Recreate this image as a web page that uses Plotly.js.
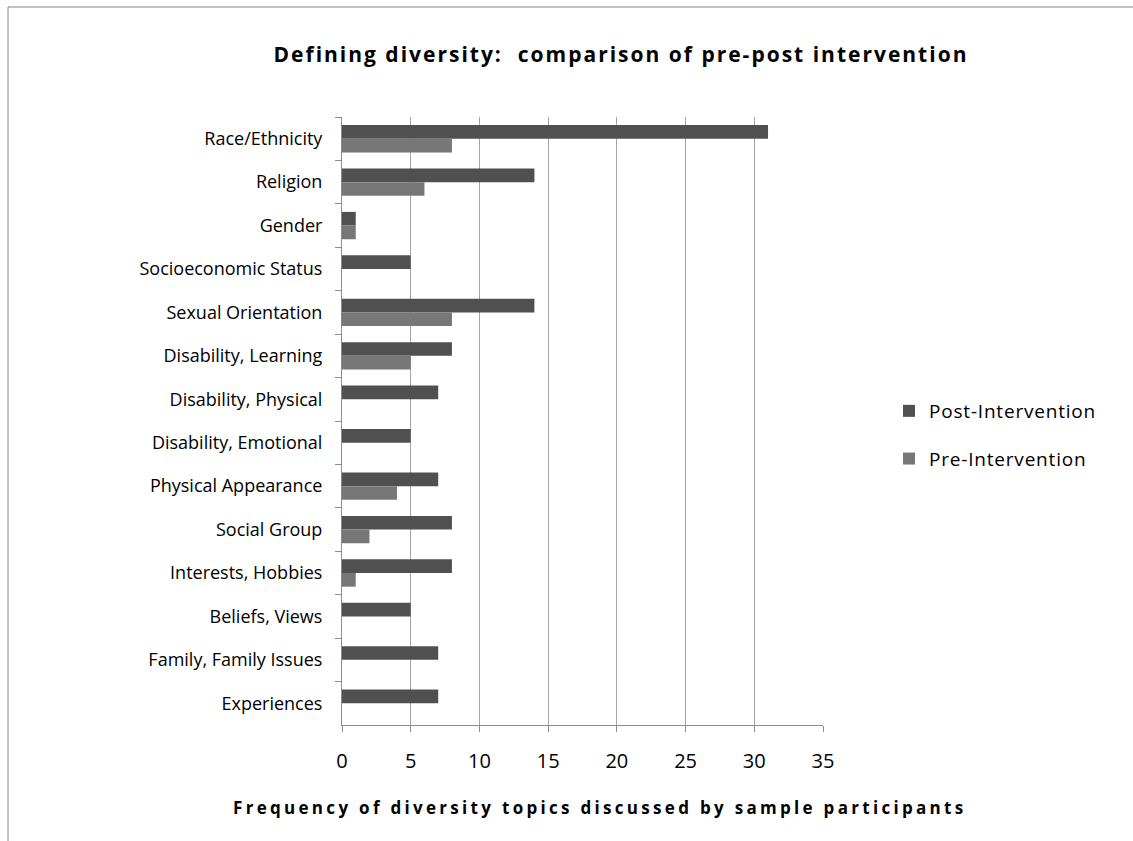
<!DOCTYPE html>
<html>
<head>
<meta charset="utf-8">
<script src="https://cdn.plot.ly/plotly-3.0.1.min.js"></script>
<style>
  html, body { margin: 0; padding: 0; background: #ffffff; }
  #chart { width: 1133px; height: 841px; }
  .gtitle { letter-spacing: 2px; }
  .annotation-text { letter-spacing: 3.3px; }
  .legendtext { letter-spacing: 0.8px; }
</style>
</head>
<body>
<div id="chart"></div>
<script>
// Topics named by participants when defining diversity
const categories = [
  "Race/Ethnicity", "Religion", "Gender", "Socioeconomic Status",
  "Sexual Orientation", "Disability, Learning", "Disability, Physical",
  "Disability, Emotional", "Physical Appearance", "Social Group",
  "Interests, Hobbies", "Beliefs, Views", "Family, Family Issues", "Experiences"
];

// Frequency counts after the intervention
const postIntervention = [31, 14, 1, 5, 14, 8, 7, 5, 7, 8, 8, 5, 7, 7];

// Frequency counts before the intervention
const preIntervention = [8, 6, 1, 0, 8, 5, 0, 0, 4, 2, 1, 0, 0, 0];

const xTickValues = [0, 5, 10, 15, 20, 25, 30, 35];

const FONT = "'Open Sans', 'Liberation Sans', sans-serif";
const AXIS_GREY = "#8c8c8c";

const traces = [
  {
    type: "bar",
    orientation: "h",
    name: "Post-Intervention",
    legendgroup: "post",
    y: categories,
    x: postIntervention,
    marker: { color: "#505050", line: { width: 0 } },
    hoverinfo: "x+y+name"
  },
  {
    type: "bar",
    orientation: "h",
    name: "Pre-Intervention",
    legendgroup: "pre",
    y: categories,
    x: preIntervention,
    marker: { color: "#777777", line: { width: 0 } },
    hoverinfo: "x+y+name"
  }
];

// plot area: 342..823 px horizontally, 117..725 px vertically
const PL = 342, PR = 823, PT = 117, PB = 725;
const W = 1133, H = 841;
const px2x = v => (v - PL) / (PR - PL);
const px2y = v => (PB - v) / (PB - PT);

const layout = {
  width: W,
  height: H,
  margin: { l: PL, r: W - PR, t: PT, b: H - PB, pad: 0 },
  paper_bgcolor: "#ffffff",
  plot_bgcolor: "#ffffff",
  font: { family: FONT, color: "#000000", size: 18 },
  barmode: "group",
  bargap: 0.37,
  bargroupgap: 0,
  showlegend: true,
  title: {
    text: "<b>Defining diversity:  comparison of pre-post intervention</b>",
    font: { family: FONT, size: 21, color: "#000000" },
    xref: "paper",
    x: px2x(621),
    xanchor: "center",
    yref: "container",
    y: 1 - 55 / H,
    yanchor: "middle"
  },
  xaxis: {
    range: [0, 35],
    tickvals: xTickValues,
    ticktext: xTickValues.map(String),
    showgrid: true,
    gridcolor: "#a6a6a6",
    gridwidth: 1,
    zeroline: false,
    showline: true,
    linecolor: AXIS_GREY,
    linewidth: 1,
    ticks: "outside",
    ticklen: 6,
    tickcolor: AXIS_GREY,
    ticklabelstandoff: 12,
    tickfont: { family: FONT, size: 20, color: "#000000" },
    fixedrange: true
  },
  yaxis: {
    type: "category",
    autorange: "reversed",
    showgrid: false,
    zeroline: false,
    showline: true,
    linecolor: AXIS_GREY,
    linewidth: 1,
    ticks: "outside",
    tickson: "boundaries",
    ticklen: 6,
    tickcolor: AXIS_GREY,
    ticklabelstandoff: 15,
    tickfont: { family: FONT, size: 18, color: "#000000" },
    fixedrange: true
  },
  annotations: [
    {
      // horizontal axis title
      text: "<b>Frequency of diversity topics discussed by sample participants</b>",
      font: { family: FONT, size: 17, color: "#000000" },
      xref: "paper",
      yref: "paper",
      x: px2x(600),
      y: px2y(808),
      xanchor: "center",
      yanchor: "middle",
      showarrow: false
    }
  ],
  legend: {
    x: px2x(889),
    xanchor: "left",
    y: px2y(435),
    yanchor: "middle",
    traceorder: "grouped",
    tracegroupgap: 20,
    font: { family: FONT, size: 19, color: "#000000" },
    bgcolor: "rgba(0,0,0,0)",
    borderwidth: 0
  },
  shapes: [
    // outer chart frame (left and top edges)
    { type: "line", xref: "paper", yref: "paper",
      x0: px2x(8), x1: px2x(8), y0: px2y(7), y1: px2y(H + 5),
      line: { color: "#868686", width: 1 } },
    { type: "line", xref: "paper", yref: "paper",
      x0: px2x(8), x1: px2x(W + 5), y0: px2y(7), y1: px2y(7),
      line: { color: "#868686", width: 1 } }
  ]
};

Plotly.newPlot("chart", traces, layout, { displayModeBar: false, staticPlot: true });
</script>
</body>
</html>
